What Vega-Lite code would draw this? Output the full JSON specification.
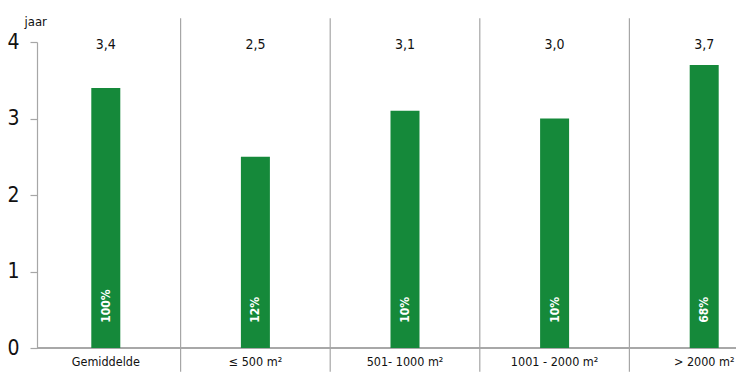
{
  "$schema": "https://vega.github.io/schema/vega-lite/v6.json",
  "autosize": {"type": "none"},
  "width": 699,
  "height": 306,
  "padding": {"left": 37, "top": 42, "right": 0, "bottom": 24},
  "background": "white",
  "config": {
    "view": {"stroke": null},
    "font": "Liberation Sans Narrow, DejaVu Sans Condensed, Roboto, sans-serif"
  },
  "data": {
    "values": [
      {"cat": "Gemiddelde", "value": 3.4, "label": "3,4", "pct": "100%", "sep": false},
      {"cat": "≤ 500 m²", "value": 2.5, "label": "2,5", "pct": "12%", "sep": true},
      {"cat": "501- 1000 m²", "value": 3.1, "label": "3,1", "pct": "10%", "sep": true},
      {"cat": "1001 - 2000 m²", "value": 3.0, "label": "3,0", "pct": "10%", "sep": true},
      {"cat": "> 2000 m²", "value": 3.7, "label": "3,7", "pct": "68%", "sep": true}
    ]
  },
  "encoding": {
    "x": {
      "field": "cat",
      "type": "nominal",
      "sort": ["Gemiddelde", "≤ 500 m²", "501- 1000 m²", "1001 - 2000 m²", "> 2000 m²"],
      "scale": {"range": [-6, 742], "paddingInner": 0, "paddingOuter": 0},
      "axis": {
        "title": null,
        "domain": false,
        "ticks": false,
        "labelAngle": 0,
        "labelFontSize": 12.5,
        "labelColor": "#111",
        "labelPadding": 7
      }
    }
  },
  "layer": [
    {
      "transform": [{"filter": "datum.sep"}],
      "mark": {"type": "rule", "color": "#a6a6a6", "strokeWidth": 1.2},
      "encoding": {
        "x": {"field": "cat", "type": "nominal", "sort": ["Gemiddelde", "≤ 500 m²", "501- 1000 m²", "1001 - 2000 m²", "> 2000 m²"], "bandPosition": 0},
        "y": {"datum": 4.31},
        "y2": {"datum": -0.31}
      }
    },
    {
      "mark": {"type": "rule", "color": "#a6a6a6", "strokeWidth": 1.2},
      "encoding": {"y": {"datum": 0}, "x": null}
    },
    {
      "mark": {"type": "bar", "color": "#15893a", "size": 29},
      "encoding": {
        "y": {
          "field": "value",
          "type": "quantitative",
          "scale": {"domain": [0, 4], "nice": false},
          "axis": {
            "title": "jaar",
            "titleAngle": 0,
            "titleAlign": "left",
            "titleBaseline": "alphabetic",
            "titleX": -13,
            "titleY": -17,
            "titleFontSize": 13,
            "titleFontWeight": "normal",
            "titleColor": "#111",
            "values": [0, 1, 2, 3, 4],
            "format": "d",
            "grid": false,
            "domainColor": "#a6a6a6",
            "domainWidth": 1.2,
            "tickColor": "#a6a6a6",
            "tickWidth": 1.2,
            "tickSize": 7,
            "labelFontSize": 21,
            "labelColor": "#111",
            "labelPadding": 11
          }
        }
      }
    },
    {
      "mark": {"type": "text", "fontSize": 14, "color": "#111", "baseline": "middle"},
      "encoding": {
        "y": {"datum": 3.96},
        "text": {"field": "label"}
      }
    },
    {
      "mark": {"type": "text", "fontSize": 12, "fontWeight": "bold", "color": "white", "angle": 270, "align": "left", "baseline": "middle"},
      "encoding": {
        "y": {"datum": 0.33},
        "text": {"field": "pct"}
      }
    }
  ]
}
